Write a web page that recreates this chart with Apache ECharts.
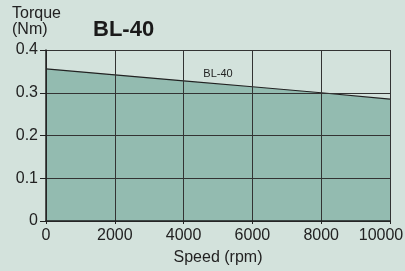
<!DOCTYPE html>
<html>
<head>
<meta charset="utf-8">
<script src="https://cdn.jsdelivr.net/npm/echarts@6/dist/echarts.min.js"></script>
<style>
  html, body { margin: 0; padding: 0; background: #d3e2dc; }
  #chart { width: 405px; height: 271px; }
</style>
</head>
<body>
<div id="chart"></div>
<script>
// speed (rpm) vs torque (Nm)
const speeds = [0, 2000, 4000, 6000, 8000, 10000];
const torque = [0.356, 0.342, 0.328, 0.314, 0.300, 0.285];
const seriesName = 'BL-40';

const chart = echarts.init(document.getElementById('chart'));
const font = 'Liberation Sans, Arial, sans-serif';

const option = {
  backgroundColor: '#d3e2dc',
  animation: false,
  title: {
    text: 'BL-40',
    left: 88,
    top: 14,
    textStyle: { fontFamily: font, fontSize: 22, fontWeight: 900, color: '#1a1a1a' }
  },
  graphic: [{
    type: 'text',
    left: 12,
    top: 6,
    style: {
      text: 'Torque\n(Nm)',
      font: '16px ' + font,
      fill: '#222',
      lineHeight: 16
    }
  }],
  grid: { left: 46, right: 15, top: 50, bottom: 50, containLabel: false, outerBoundsMode: 'none' },
  xAxis: {
    type: 'value',
    min: 0, max: 10000, interval: 2000,
    z: 5,
    name: 'Speed (rpm)',
    nameLocation: 'middle',
    nameGap: 29,
    nameTextStyle: { fontFamily: font, fontSize: 16, color: '#222' },
    axisLine: { lineStyle: { color: '#222', width: 1.5 } },
    axisTick: { show: true, length: 3, lineStyle: { color: '#222' } },
    axisLabel: {
      fontFamily: font, fontSize: 16, color: '#222', margin: 7,
      formatter: v => v === 10000 ? '{last|' + v + '}' : String(v),
      rich: { last: { fontFamily: font, fontSize: 16, color: '#222', padding: [0, 18, 0, 0] } }
    },
    splitLine: { lineStyle: { color: '#333', width: 1 } }
  },
  yAxis: {
    type: 'value',
    min: 0, max: 0.4, interval: 0.1,
    z: 5,
    axisLine: { show: true, lineStyle: { color: '#222', width: 1.5 } },
    axisTick: { show: true, length: 6, lineStyle: { color: '#222' } },
    axisLabel: { fontFamily: font, fontSize: 16, color: '#222', margin: 8 },
    splitLine: { lineStyle: { color: '#333', width: 1 } }
  },
  series: [{
    name: seriesName,
    type: 'line',
    data: speeds.map((s, i) => [s, torque[i]]),
    symbol: 'none',
    lineStyle: { color: '#222', width: 1.2 },
    areaStyle: { color: '#93bbb0', opacity: 1 },
    z: 1,
    markPoint: {
      symbol: 'circle',
      symbolSize: 0,
      data: [{ coord: [5000, 0.321], value: seriesName }],
      label: { show: true, position: 'inside', formatter: seriesName, fontFamily: font, fontSize: 11, color: '#222', offset: [0, -10] }
    }
  }]
};
chart.setOption(option);
</script>
</body>
</html>
